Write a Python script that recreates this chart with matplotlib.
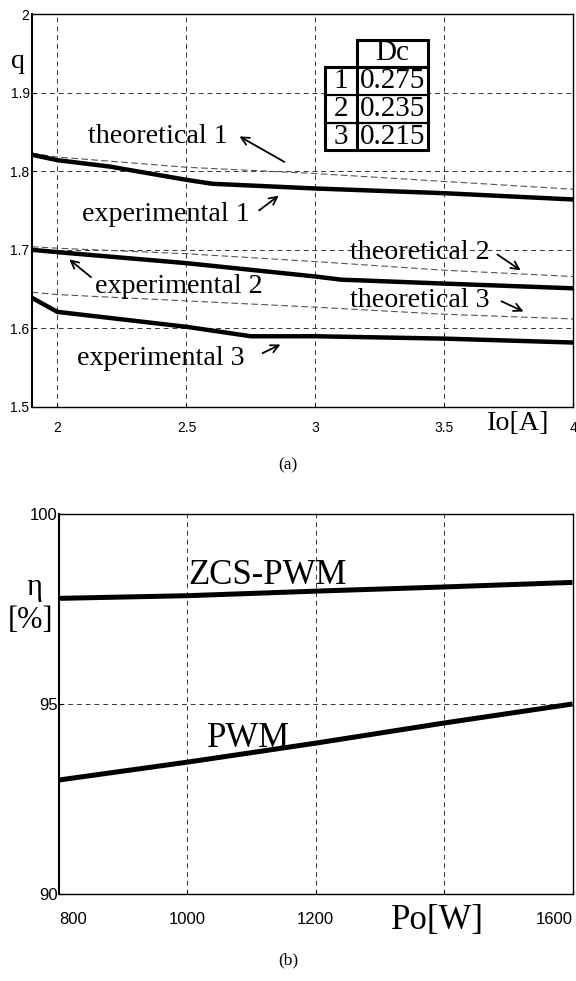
import matplotlib
matplotlib.use("Agg")
import matplotlib.pyplot as plt
from matplotlib.patches import Rectangle

# ---------------- data: chart (a) ----------------
io_exp1 = [1.9, 2.0, 2.2, 2.5, 2.6, 3.0, 3.5, 4.0]
q_exp1 = [1.821, 1.814, 1.806, 1.789, 1.784, 1.778, 1.772, 1.764]
io_theo1 = [1.9, 2.0, 2.5, 3.0, 3.5, 4.0]
q_theo1 = [1.823, 1.818, 1.805, 1.797, 1.787, 1.777]

io_exp2 = [1.9, 2.0, 2.5, 3.0, 3.1, 3.5, 4.0]
q_exp2 = [1.700, 1.697, 1.683, 1.666, 1.662, 1.657, 1.651]
io_theo2 = [1.9, 2.0, 2.5, 3.0, 3.5, 4.0]
q_theo2 = [1.704, 1.702, 1.695, 1.685, 1.674, 1.666]

io_exp3 = [1.9, 2.0, 2.5, 2.75, 3.0, 3.5, 4.0]
q_exp3 = [1.639, 1.621, 1.602, 1.590, 1.590, 1.587, 1.582]
io_theo3 = [1.9, 2.0, 2.5, 3.0, 3.5, 4.0]
q_theo3 = [1.646, 1.643, 1.635, 1.627, 1.618, 1.612]

a_xticks = [2, 2.5, 3, 3.5, 4]
a_xticklabels = ["2", "2.5", "3", "3.5", "4"]
a_yticks = [1.5, 1.6, 1.7, 1.8, 1.9, 2.0]
a_yticklabels = ["1.5", "1.6", "1.7", "1.8", "1.9", "2"]

table_rows = ["1", "2", "3"]
table_dc = ["0.275", "0.235", "0.215"]

# ---------------- data: chart (b) ----------------
po = [800, 1000, 1200, 1400, 1600]
eta_zcs = [97.78, 97.85, 97.97, 98.08, 98.20]
eta_pwm = [93.00, 93.47, 93.97, 94.50, 95.00]

b_xticks = [800, 1000, 1200, 1400, 1600]
b_xticklabels = ["800", "1000", "1200", "", "1600"]
b_yticks = [90, 95, 100]
b_yticklabels = ["90", "95", "100"]

SERIF = ["Liberation Serif", "DejaVu Serif"]
SANS = ["Liberation Sans", "DejaVu Sans"]

fig = plt.figure(figsize=(5.76, 9.81), dpi=100)
W, H = 576.0, 981.0

grid_kw = dict(color="#333333", linewidth=0.7, linestyle=(0, (5, 4)))
theo_kw = dict(color="#555555", linewidth=0.8, linestyle=(0, (6, 3)))

# ================= chart (a) =================
ax1 = fig.add_axes([31.7 / W, 1 - 407 / H, 541.8 / W, 393 / H])
ax1.plot(io_theo1, q_theo1, **theo_kw)
ax1.plot(io_theo2, q_theo2, **theo_kw)
ax1.plot(io_theo3, q_theo3, **theo_kw)
ax1.plot(io_exp1, q_exp1, color="black", linewidth=3.2, solid_capstyle="butt")
ax1.plot(io_exp2, q_exp2, color="black", linewidth=3.2, solid_capstyle="butt")
ax1.plot(io_exp3, q_exp3, color="black", linewidth=3.2, solid_capstyle="butt")
ax1.set_xlim(1.9, 4.0)
ax1.set_ylim(1.5, 2.0)
ax1.set_xticks(a_xticks)
ax1.set_xticklabels(a_xticklabels, family=SANS, fontsize=10)
ax1.set_yticks(a_yticks)
ax1.set_yticklabels(a_yticklabels, family=SANS, fontsize=10)
ax1.tick_params(axis="x", direction="in", length=3, pad=10)
ax1.tick_params(axis="y", direction="in", length=3, pad=1.5)
ax1.grid(True, **grid_kw)
for s in ax1.spines.values():
    s.set_linewidth(1.0)
ax1.spines["left"].set_linewidth(1.5)

tfont = dict(family=SERIF, fontsize=20.2)
arrow = dict(arrowstyle="->", color="black", lw=1.3, mutation_scale=14)

ax1.text(2.118, 1.836, "theoretical 1", ha="left", va="baseline", **tfont)
ax1.annotate("", xy=(2.696, 1.846), xytext=(2.889, 1.810), arrowprops=arrow)
ax1.text(2.095, 1.737, "experimental 1", ha="left", va="baseline", **tfont)
ax1.annotate("", xy=(2.866, 1.771), xytext=(2.773, 1.748), arrowprops=arrow)
ax1.text(2.145, 1.645, "experimental 2", ha="left", va="baseline", **tfont)
ax1.annotate("", xy=(2.037, 1.690), xytext=(2.138, 1.663), arrowprops=arrow)
ax1.text(2.076, 1.553, "experimental 3", ha="left", va="baseline", **tfont)
ax1.annotate("", xy=(2.874, 1.581), xytext=(2.785, 1.567), arrowprops=arrow)
ax1.text(3.134, 1.688, "theoretical 2", ha="left", va="baseline", **tfont)
ax1.annotate("", xy=(3.804, 1.672), xytext=(3.696, 1.696), arrowprops=arrow)
ax1.text(3.134, 1.627, "theoretical 3", ha="left", va="baseline", **tfont)
ax1.annotate("", xy=(3.816, 1.620), xytext=(3.711, 1.636), arrowprops=arrow)

ax1.text(3.785, 1.4784, "Io[A]", ha="center", va="center", clip_on=False,
         family=SERIF, fontsize=20.2)
fig.text(17.5 / W, 1 - 61 / H, "q", ha="center", va="center", family=SERIF, fontsize=20)

# table (in axes fraction coordinates)
def fx(px):
    return (px - 31.7) / 541.8

def fy(py):
    return (407 - py) / 393.0

x_l, x_m, x_r = fx(325), fx(357), fx(428)
y_t, y_h = fy(40), fy(67)
row_edges = [fy(67), fy(95), fy(123), fy(150)]
tr = ax1.transAxes
ax1.add_patch(Rectangle((x_m, y_h), x_r - x_m, y_t - y_h, transform=tr,
                        facecolor="white", edgecolor="black", lw=2.2, zorder=5))
ax1.add_patch(Rectangle((x_l, row_edges[-1]), x_r - x_l, row_edges[0] - row_edges[-1],
                        transform=tr, facecolor="white", edgecolor="black", lw=2.2, zorder=5))
ax1.plot([x_m, x_m], [row_edges[-1], row_edges[0]], transform=tr, color="black", lw=2.2, zorder=6)
for yy in row_edges[1:-1]:
    ax1.plot([x_l, x_r], [yy, yy], transform=tr, color="black", lw=1.6, zorder=6)
ax1.text((x_m + x_r) / 2, (y_t + y_h) / 2, "Dc", transform=tr, ha="center", va="center",
         family=SERIF, fontsize=21, zorder=7)
for i, (rl, dc) in enumerate(zip(table_rows, table_dc)):
    yc = (row_edges[i] + row_edges[i + 1]) / 2
    ax1.text((x_l + x_m) / 2, yc, rl, transform=tr, ha="center", va="center",
             family=SERIF, fontsize=21, zorder=7)
    ax1.text((x_m + x_r) / 2, yc, dc, transform=tr, ha="center", va="center",
             family=SERIF, fontsize=21, zorder=7)

fig.text(288 / W, 1 - 465 / H, "(a)", ha="center", va="center", family=SERIF, fontsize=12.5)

# ================= chart (b) =================
ax2 = fig.add_axes([59 / W, 1 - 894 / H, 513.5 / W, 380 / H])
ax2.plot(po, eta_zcs, color="black", linewidth=3.6, solid_capstyle="butt")
ax2.plot(po, eta_pwm, color="black", linewidth=3.6, solid_capstyle="butt")
ax2.set_xlim(800, 1600)
ax2.set_ylim(90, 100)
ax2.set_xticks(b_xticks)
xt = ax2.set_xticklabels(b_xticklabels, family=SANS, fontsize=12)
xt[0].set_ha("left")
xt[-1].set_ha("right")
ax2.set_yticks(b_yticks)
ax2.set_yticklabels(b_yticklabels, family=SANS, fontsize=12)
ax2.tick_params(axis="x", direction="in", length=3, pad=13)
ax2.tick_params(axis="y", direction="in", length=3, pad=1)
ax2.grid(True, **grid_kw)
for s in ax2.spines.values():
    s.set_linewidth(1.0)
ax2.spines["left"].set_linewidth(1.5)

bfont = dict(family=SERIF, fontsize=25)
ax2.text(1001, 98.16, "ZCS-PWM", ha="left", va="baseline", **bfont)
ax2.text(1031, 93.87, "PWM", ha="left", va="baseline", **bfont)
ax2.text(1390, 89.29, "Po[W]", ha="center", va="center", clip_on=False, **bfont)

fig.text(34 / W, 1 - 588 / H, "η", ha="center", va="center", family=SERIF, fontsize=22)
fig.text(31 / W, 1 - 621 / H, "[%]", ha="center", va="center", family=SERIF, fontsize=22)

fig.text(288 / W, 1 - 960 / H, "(b)", ha="center", va="center", family=SERIF, fontsize=12.5)

fig.savefig("out.png", dpi=100)
